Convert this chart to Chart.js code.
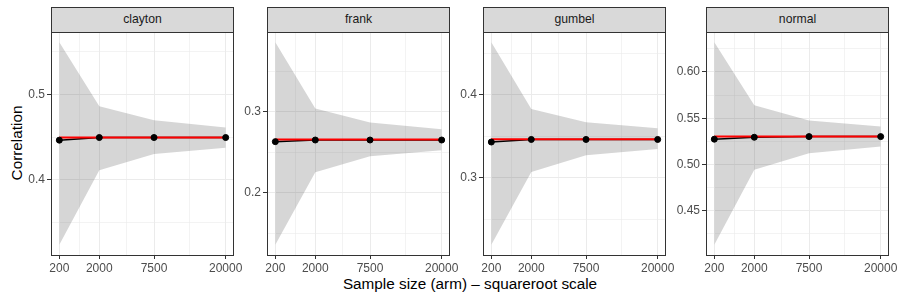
<!DOCTYPE html>
<html>
<head>
<meta charset="utf-8">
<script src="https://cdn.jsdelivr.net/npm/chart.js@4"></script>
<style>
    body { margin: 0; width: 897px; height: 301px; overflow: hidden; background: #fff; position: relative;
           font-family: 'Liberation Sans', Arial, sans-serif; }
    .panel { position: absolute; top: 22px; }
    .strip { position: absolute; top: 7px; height: 26px; box-sizing: border-box; border: 1px solid #333;
             background: #D9D9D9; color: #1A1A1A; font-size: 12.2px; text-align: center; line-height: 23px; }
    .ytitle { position: absolute; left: 17px; top: 143px; transform: translate(-50%, -50%) rotate(-90deg);
              font-size: 15.3px; color: #000; white-space: nowrap; }
    .xtitle { position: absolute; left: 470px; top: 284px; transform: translate(-50%, -50%);
              font-size: 15.3px; color: #000; white-space: nowrap; }
</style>
</head>
<body>
<div class="ytitle">Correlation</div>
<div class="xtitle">Sample size (arm) – squareroot scale</div>

<script>
/* ========================================
   Correlation estimates by copula family
   ======================================== */

// Facets and x breaks
const families = ['clayton', 'frank', 'gumbel', 'normal'];
const sampleSizes = [200, 2000, 7500, 20000];

// Estimated correlation (black points / line)
const estClayton = [0.4463, 0.4494, 0.4494, 0.4494];
const estFrank   = [0.2633, 0.2653, 0.2653, 0.2653];
const estGumbel  = [0.3429, 0.3460, 0.3460, 0.3460];
const estNormal  = [0.5273, 0.5294, 0.5301, 0.5301];

// Ribbon lower / upper bounds
const loClayton = [0.3238, 0.4110, 0.4300, 0.4373];
const hiClayton = [0.5610, 0.4860, 0.4697, 0.4610];
const loFrank   = [0.1360, 0.2255, 0.2454, 0.2528];
const hiFrank   = [0.3860, 0.3042, 0.2869, 0.2786];
const loGumbel  = [0.2192, 0.3068, 0.3269, 0.3345];
const hiGumbel  = [0.4631, 0.3827, 0.3667, 0.3595];
const loNormal  = [0.4130, 0.4943, 0.5122, 0.5194];
const hiNormal  = [0.6323, 0.5640, 0.5474, 0.5410];

// True correlation (red line)
const truthValues = [0.4494, 0.2660, 0.3462, 0.5301];

// y tick step and decimals per facet
const yStep = [0.1, 0.1, 0.1, 0.05];
const yDecimals = [1, 1, 1, 2];

const estSeries = [estClayton, estFrank, estGumbel, estNormal];
const loSeries = [loClayton, loFrank, loGumbel, loNormal];
const hiSeries = [hiClayton, hiFrank, hiGumbel, hiNormal];

// Layout of the facet panels on the page
const panelLeft = [51, 267, 483, 706];
const panelWidth = 183;
const panelHeight = 223;
const yAxisWidth = 45;
const padTop = 10;
const padRight = 20;
const xAxisHeight = 25;

Chart.defaults.font.family = "'Liberation Sans', Arial, sans-serif";
Chart.defaults.font.size = 12;
Chart.defaults.color = '#4D4D4D';

// Draw the panel border like theme_bw
const panelBorder = {
    id: 'panelBorder',
    afterDraw(chart) {
        const a = chart.chartArea;
        const ctx = chart.ctx;
        ctx.save();
        ctx.strokeStyle = '#333333';
        ctx.lineWidth = 1;
        ctx.strokeRect(Math.round(a.left) + 0.5, Math.round(a.top) + 0.5,
                       Math.round(a.right - a.left) - 1, Math.round(a.bottom - a.top));
        ctx.restore();
    }
};

function sqrtPoints(values) {
    return values.map((v, i) => ({ x: Math.sqrt(sampleSizes[i]), y: v }));
}

function buildPanel(idx) {
    const name = families[idx];

    const strip = document.createElement('div');
    strip.className = 'strip';
    strip.style.left = panelLeft[idx] + 'px';
    strip.style.width = panelWidth + 'px';
    strip.textContent = name;
    document.body.appendChild(strip);

    const box = document.createElement('div');
    box.className = 'panel';
    box.style.left = (panelLeft[idx] - yAxisWidth) + 'px';
    const canvas = document.createElement('canvas');
    canvas.width = yAxisWidth + panelWidth + padRight;
    canvas.height = padTop + panelHeight + xAxisHeight;
    box.appendChild(canvas);
    document.body.appendChild(box);

    // sqrt x scale limits with ggplot's 5% expansion
    const sMin = Math.sqrt(sampleSizes[0]);
    const sMax = Math.sqrt(sampleSizes[sampleSizes.length - 1]);
    const sPad = (sMax - sMin) * 0.05;
    const xMajor = sampleSizes.map(n => Math.sqrt(n));
    const xMinor = [];
    for (let i = 0; i < xMajor.length - 1; i++) xMinor.push((xMajor[i] + xMajor[i + 1]) / 2);

    const lo = loSeries[idx], hi = hiSeries[idx];
    const yMinData = Math.min(...lo, ...estSeries[idx]);
    const yMaxData = Math.max(...hi, ...estSeries[idx]);
    const yPad = (yMaxData - yMinData) * 0.05;
    const yMin = yMinData - yPad, yMax = yMaxData + yPad;
    const half = yStep[idx] / 2;

    const isMajorX = v => xMajor.some(m => Math.abs(m - v) < 1e-6);
    const isMajorY = v => Math.abs(Math.round(v / yStep[idx]) * yStep[idx] - v) < 1e-6;

    const truthLine = sampleSizes.map(() => truthValues[idx]);

    new Chart(canvas, {
        type: 'scatter',
        data: {
            datasets: [
                {
                    label: 'points',
                    data: sqrtPoints(estSeries[idx]),
                    showLine: false,
                    pointRadius: 3,
                    pointBackgroundColor: '#000',
                    pointBorderColor: '#000',
                    order: 0
                },
                {
                    label: 'truth',
                    data: sqrtPoints(truthLine),
                    showLine: true,
                    borderColor: '#FF0000',
                    borderWidth: 2,
                    pointRadius: 0,
                    order: 1
                },
                {
                    label: 'estimate',
                    data: sqrtPoints(estSeries[idx]),
                    showLine: true,
                    borderColor: '#000',
                    borderWidth: 1.5,
                    pointRadius: 0,
                    order: 2
                },
                {
                    label: 'upper',
                    data: sqrtPoints(hi),
                    showLine: true,
                    borderWidth: 0,
                    borderColor: 'transparent',
                    backgroundColor: 'rgba(51,51,51,0.2)',
                    pointRadius: 0,
                    fill: '+1',
                    order: 3
                },
                {
                    label: 'lower',
                    data: sqrtPoints(lo),
                    showLine: true,
                    borderWidth: 0,
                    borderColor: 'transparent',
                    pointRadius: 0,
                    fill: false,
                    order: 4
                }
            ]
        },
        options: {
            responsive: false,
            animation: false,
            devicePixelRatio: 1,
            layout: { padding: { top: padTop, right: padRight, left: 0, bottom: 0 } },
            plugins: {
                legend: { display: false },
                tooltip: { enabled: false }
            },
            scales: {
                x: {
                    type: 'linear',
                    min: sMin - sPad,
                    max: sMax + sPad,
                    afterFit: s => { s.height = xAxisHeight; },
                    afterBuildTicks: s => {
                        s.ticks = xMajor.concat(xMinor).sort((a, b) => a - b).map(v => ({ value: v }));
                    },
                    ticks: {
                        autoSkip: false,
                        maxRotation: 0,
                        padding: 2,
                        color: '#4D4D4D',
                        font: { size: 12 },
                        callback: v => isMajorX(v) ? String(Math.round(v * v)) : ''
                    },
                    border: { display: false },
                    grid: {
                        color: '#EBEBEB',
                        lineWidth: c => isMajorX(c.tick.value) ? 1 : 0.6,
                        tickColor: c => isMajorX(c.tick.value) ? '#333333' : 'rgba(0,0,0,0)',
                        tickLength: 4,
                        tickWidth: 1
                    }
                },
                y: {
                    type: 'linear',
                    min: yMin,
                    max: yMax,
                    afterFit: s => { s.width = yAxisWidth; },
                    afterBuildTicks: s => {
                        const ticks = [];
                        const start = Math.ceil(yMin / half - 1e-9);
                        const end = Math.floor(yMax / half + 1e-9);
                        for (let k = start; k <= end; k++) ticks.push({ value: k * half });
                        s.ticks = ticks;
                    },
                    ticks: {
                        autoSkip: false,
                        padding: 2,
                        color: '#4D4D4D',
                        font: { size: 12 },
                        callback: v => isMajorY(v) ? v.toFixed(yDecimals[idx]) : ''
                    },
                    border: { display: false },
                    grid: {
                        color: '#EBEBEB',
                        lineWidth: c => isMajorY(c.tick.value) ? 1 : 0.6,
                        tickColor: c => isMajorY(c.tick.value) ? '#333333' : 'rgba(0,0,0,0)',
                        tickLength: 4,
                        tickWidth: 1
                    }
                }
            }
        },
        plugins: [panelBorder]
    });
}

families.forEach((f, i) => buildPanel(i));
</script>
</body>
</html>
